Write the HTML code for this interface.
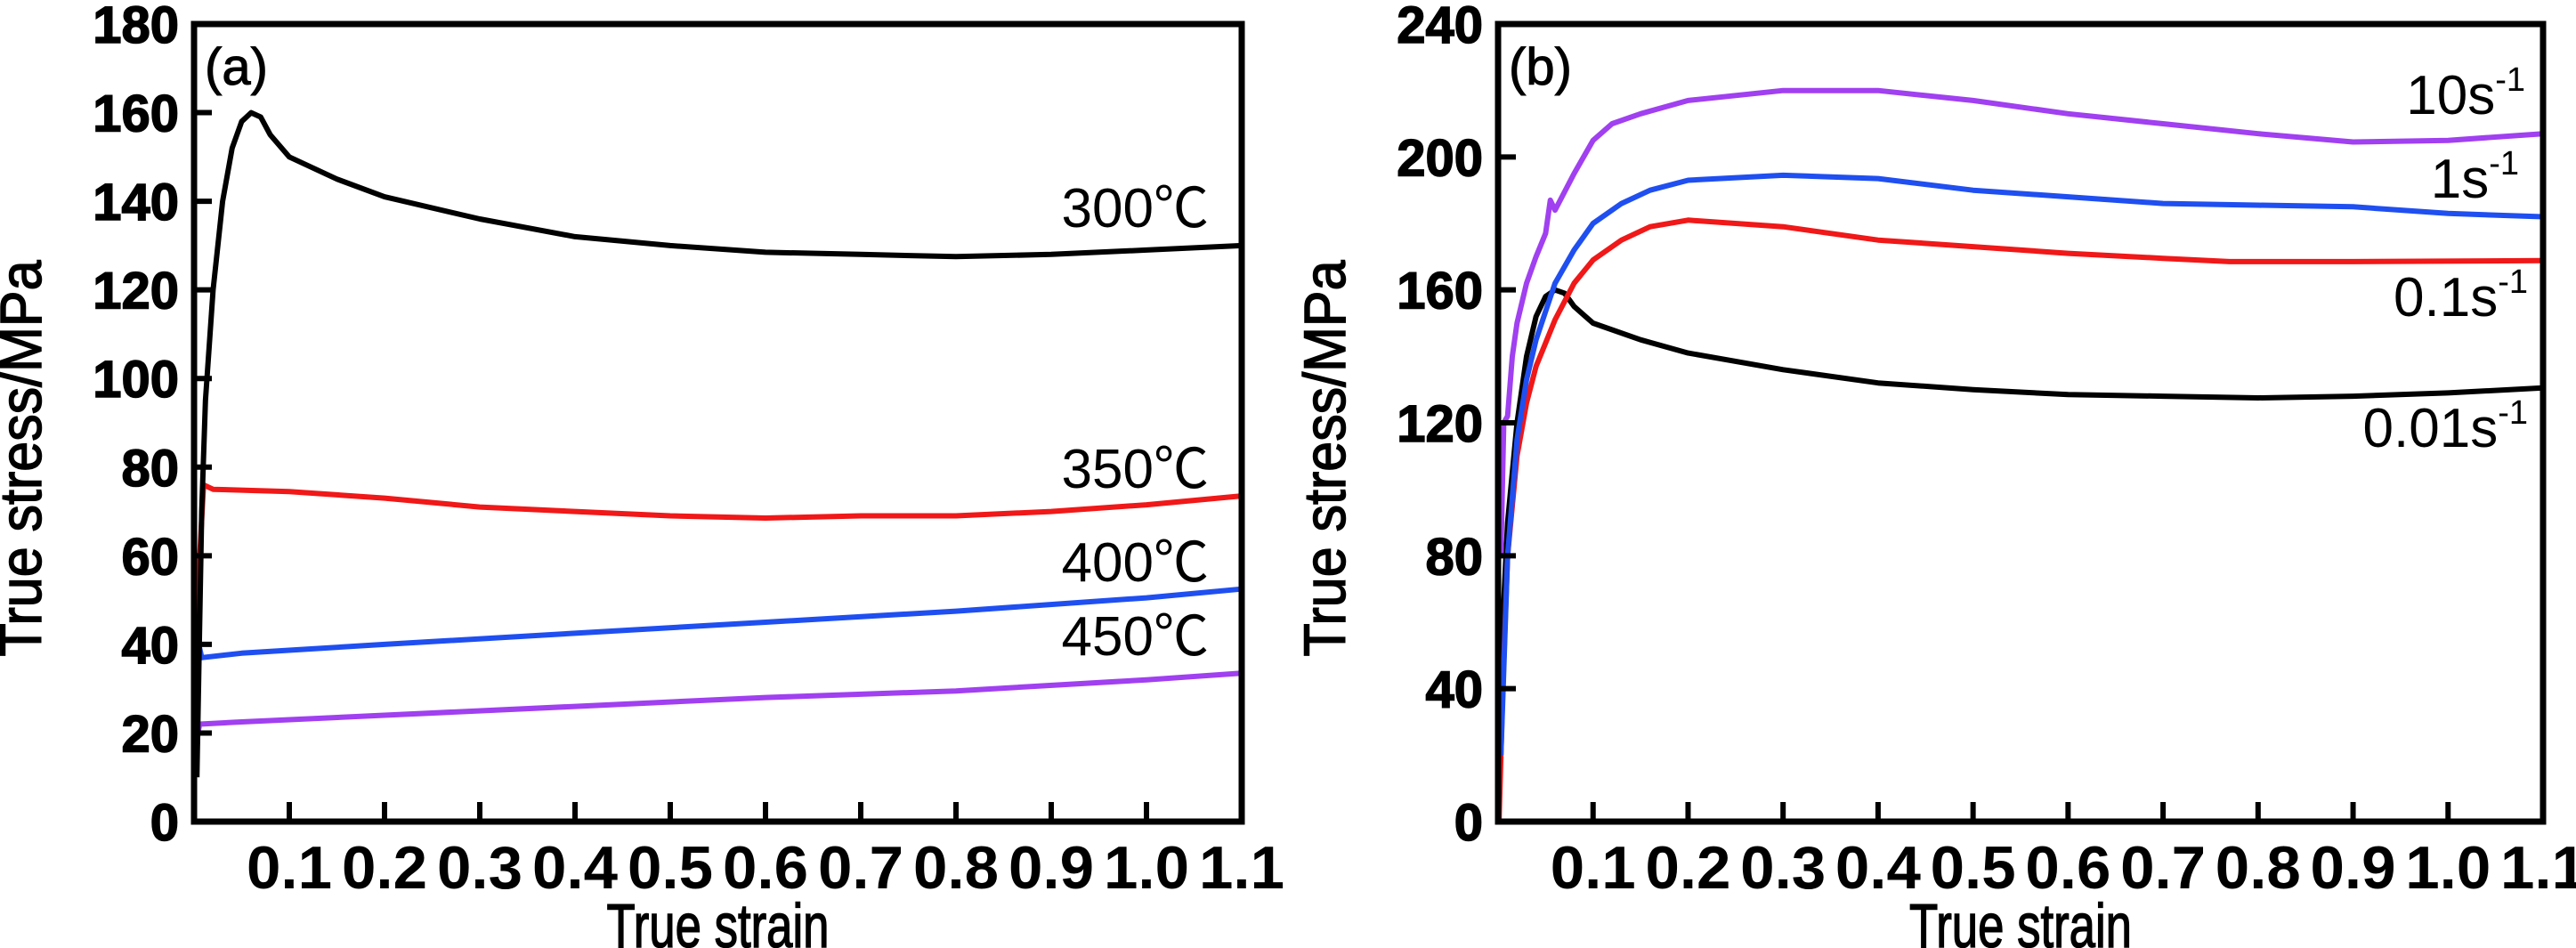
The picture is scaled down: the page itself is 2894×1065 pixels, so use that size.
<!DOCTYPE html>
<html><head><meta charset="utf-8">
<style>
html,body{margin:0;padding:0;background:#fff;}
svg{display:block;}
text{font-family:"Liberation Sans","Noto Sans CJK SC",sans-serif;fill:#000;}
</style></head>
<body>
<svg id="chart" width="2894" height="1065" viewBox="0 0 2894 1065" xmlns="http://www.w3.org/2000/svg">
<g id="panelA"></g>
<g id="panelB"></g>
</svg>
<script>
const NS="http://www.w3.org/2000/svg";
// ---- Panel (a) data: temperature series at fixed strain rate ----
const strainA300=[0.003,0.008,0.012,0.02,0.03,0.04,0.05,0.06,0.07,0.08,0.1,0.15,0.2,0.3,0.4,0.5,0.6,0.7,0.8,0.9,1.0,1.1];
const stressA300=[10,70,95,120,140,152,158,160,159,155,150,145,141,136,132,130,128.5,128,127.5,128,129,130];
const strainA350=[0.003,0.006,0.01,0.02,0.1,0.2,0.3,0.4,0.5,0.6,0.7,0.8,0.9,1.0,1.1];
const stressA350=[30,60,76,75,74.5,73,71,70,69,68.5,69,69,70,71.5,73.5];
const strainA400=[0.002,0.005,0.008,0.05,0.2,0.4,0.6,0.8,1.0,1.1];
const stressA400=[25,40,37,38,40,42.5,45,47.5,50.5,52.5];
const strainA450=[0.002,0.004,0.006,0.05,0.2,0.4,0.6,0.8,1.0,1.1];
const stressA450=[12,20,22,22.5,24,26,28,29.5,32,33.5];
// ---- Panel (b) data: strain-rate series ----
const strainB001=[0.001,0.005,0.01,0.02,0.03,0.04,0.05,0.06,0.07,0.08,0.1,0.15,0.2,0.3,0.4,0.5,0.6,0.7,0.8,0.9,1.0,1.1];
const stressB001=[5,60,90,120,140,152,158,160,159,155,150,145,141,136,132,130,128.5,128,127.5,128,129,130.5];
const strainB01=[0.001,0.005,0.01,0.02,0.03,0.04,0.06,0.08,0.1,0.13,0.16,0.2,0.3,0.4,0.5,0.6,0.7,0.77,0.9,1.1];
const stressB01=[0,40,80,110,126,137,151,162,169,175,179,181,179,175,173,171,169.5,168.5,168.5,168.8];
const strainB1=[0.003,0.01,0.02,0.03,0.04,0.06,0.08,0.1,0.13,0.16,0.2,0.3,0.4,0.5,0.6,0.7,0.8,0.9,1.0,1.1];
const stressB1=[20,80,115,133,145,162,172,180,186,190,193,194.5,193.5,190,188,186,185.5,185,183,182];
const strainB10=[0.003,0.006,0.01,0.015,0.02,0.03,0.04,0.05,0.055,0.06,0.08,0.1,0.12,0.15,0.2,0.3,0.4,0.5,0.6,0.7,0.8,0.9,1.0,1.1];
const stressB10=[80,120,122,140,150,162,170,177,187,184,195,205,210,213,217,220,220,217,213,210,207,204.5,205,207];
const xTicks=[0.1,0.2,0.3,0.4,0.5,0.6,0.7,0.8,0.9,1.0,1.1];
const xTickLabels=["0.1","0.2","0.3","0.4","0.5","0.6","0.7","0.8","0.9","1.0","1.1"];
const yTicksA=[0,20,40,60,80,100,120,140,160,180];
const yTicksB=[0,40,80,120,160,200,240];

function mk(parent,tag,attrs,txt){const e=document.createElementNS(NS,tag);for(const k in attrs)e.setAttribute(k,attrs[k]);if(txt!==undefined)e.textContent=txt;parent.appendChild(e);return e;}

function drawPanel(g,x0,x1,y0,y1,xmax,ymax,yTicks,series,letter,labels){
  const X=v=>x0+(v/xmax)*(x1-x0);
  const Y=v=>y0-(v/ymax)*(y0-y1);
  series.forEach(s=>{
    const d=s.x.map((v,i)=>(i?"L":"M")+X(v).toFixed(1)+","+Y(s.y[i]).toFixed(1)).join("");
    const p=mk(g,"path",{d:d,fill:"none",stroke:s.color,"stroke-width":6,"stroke-linejoin":"round"});
    
    
  });
  const f=mk(g,"rect",{x:x0,y:y1,width:x1-x0,height:y0-y1,fill:"none",stroke:"#000","stroke-width":7});
  
  
  yTicks.forEach(v=>{
    if(v>0&&v<ymax){const t=mk(g,"line",{x1:x0,x2:x0+20,y1:Y(v),y2:Y(v),stroke:"#000","stroke-width":6});
    
    }
    const l=mk(g,"text",{x:x0-17,y:Y(v)+21,"text-anchor":"end","font-size":58,"font-weight":"bold",stroke:"#000","stroke-width":1.5});
    l.textContent=String(v);
    
    
  });
  xTicks.forEach((v,i)=>{
    if(v<xmax){const t=mk(g,"line",{x1:X(v),x2:X(v),y1:y0,y2:y0-22,stroke:"#000","stroke-width":6});
    
    }
    const l=mk(g,"text",{x:X(v),y:998,"text-anchor":"middle","font-size":68,"font-weight":"bold",textLength:96,lengthAdjust:"spacingAndGlyphs"},xTickLabels[i]);
    
    
  });
  const xt=mk(g,"text",{x:(x0+x1)/2,y:1064,"text-anchor":"middle","font-size":70,stroke:"#000","stroke-width":1.5,textLength:250,lengthAdjust:"spacingAndGlyphs"},"True strain");
  
  
  const yx=x0-172, yc=(y0+y1)/2+40;
  const yt=mk(g,"text",{x:yx,y:yc,"text-anchor":"middle","font-size":66,stroke:"#000","stroke-width":1.5,textLength:445,lengthAdjust:"spacingAndGlyphs",transform:`rotate(-90 ${yx} ${yc})`},"True stress/MPa");
  
  
  const pl=mk(g,"text",{x:x0+12,y:y1+68,"font-size":58,stroke:"#000","stroke-width":1},letter);
  
  
  labels.forEach(L=>{
    const t=mk(g,"text",{x:L.x,y:L.y,"text-anchor":"end","font-size":62});
    if(L.sup){t.appendChild(document.createTextNode(L.t));mk(t,"tspan",{"font-size":38,dy:-26},L.sup);}
    else{t.textContent=L.t;}
    
    
  });
}
drawPanel(document.getElementById("panelA"),218,1395,923,27,1.1,180,yTicksA,[
  {x:strainA450,y:stressA450,color:"#a040f0",name:"series-450c"},
  {x:strainA400,y:stressA400,color:"#1f4ff0",name:"series-400c"},
  {x:strainA350,y:stressA350,color:"#f01818",name:"series-350c"},
  {x:strainA300,y:stressA300,color:"#000000",name:"series-300c"}],"(a)",[
  {x:1358,y:255,t:"300℃",name:"label-300c"},
  {x:1358,y:548,t:"350℃",name:"label-350c"},
  {x:1358,y:653,t:"400℃",name:"label-400c"},
  {x:1358,y:736,t:"450℃",name:"label-450c"}]);
drawPanel(document.getElementById("panelB"),1683,2857,923,27,1.1,240,yTicksB,[
  {x:strainB001,y:stressB001,color:"#000000",name:"series-0-01s"},
  {x:strainB01,y:stressB01,color:"#f01818",name:"series-0-1s"},
  {x:strainB1,y:stressB1,color:"#1f4ff0",name:"series-1s"},
  {x:strainB10,y:stressB10,color:"#a040f0",name:"series-10s"}],"(b)",[
  {x:2837,y:128,t:"10s",sup:"-1",name:"label-10s"},
  {x:2830,y:222,t:"1s",sup:"-1",name:"label-1s"},
  {x:2840,y:355,t:"0.1s",sup:"-1",name:"label-0-1s"},
  {x:2840,y:502,t:"0.01s",sup:"-1",name:"label-0-01s"}]);
</script>
</body></html>
